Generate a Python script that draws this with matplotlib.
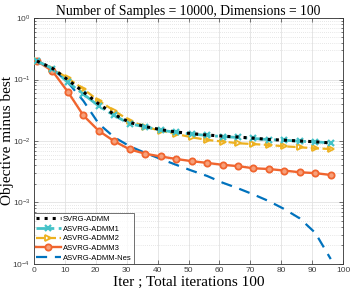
import numpy as np
import matplotlib.pyplot as plt
from matplotlib.ticker import LogLocator, NullFormatter

# iteration index of each recorded point
iters = [1, 6, 11, 16, 21, 26, 31, 36, 41, 46, 51, 56, 61, 66, 71, 76, 81, 86, 91, 96]

svrg_admm = [0.2, 0.152, 0.099, 0.063, 0.040, 0.027, 0.020, 0.0172, 0.0153, 0.0140,
             0.0132, 0.0125, 0.0120, 0.0116, 0.0111, 0.0106, 0.0103, 0.0100, 0.0097, 0.0093]
asvrg_admm1 = [0.2, 0.150, 0.090, 0.058, 0.037, 0.026, 0.019, 0.0170, 0.0150, 0.0138,
               0.0130, 0.0123, 0.0118, 0.0114, 0.0110, 0.0105, 0.0103, 0.0099, 0.0097, 0.0093]
asvrg_admm2 = [0.2, 0.150, 0.105, 0.070, 0.045, 0.031, 0.0214, 0.0170, 0.0147, 0.0130,
               0.0115, 0.0104, 0.0098, 0.0092, 0.0089, 0.0086, 0.0082, 0.0079, 0.0076, 0.0074]
asvrg_admm3 = [0.2, 0.137, 0.063, 0.026, 0.0146, 0.0099, 0.0073, 0.0062, 0.0056, 0.0051,
               0.0047, 0.0044, 0.0041, 0.0039, 0.0036, 0.0035, 0.0033, 0.0031, 0.0030, 0.0028]
asvrg_admm_nes = [0.2, 0.150, 0.090, 0.045, 0.019, 0.0115, 0.0082, 0.0064, 0.0051, 0.0041,
                  0.0033, 0.0027, 0.0021, 0.0017, 0.00135, 0.00105, 0.00078, 0.00055, 0.00032, 0.00012]

plt.rcParams['font.family'] = ['Liberation Sans', 'DejaVu Sans']
plt.rcParams['mathtext.fontset'] = 'custom'
plt.rcParams['mathtext.rm'] = 'Liberation Sans'

fig = plt.figure(figsize=(3.53, 2.91), dpi=100)
ax = fig.add_axes([0.096, 0.093, 0.876, 0.845])

ax.plot(iters, svrg_admm, ':', color='k', lw=2.2, label='SVRG-ADMM', zorder=5)
ax.plot(iters, asvrg_admm1, '-.', color='#44C2C8', lw=2.0, marker='x', ms=4.5,
        mew=1.6, label='ASVRG-ADMM1', zorder=4)
ax.plot(iters, asvrg_admm2, '--', color='#EDB120', lw=1.6, marker='>', ms=4.5,
        mfc='none', mew=1.3, label='ASVRG-ADMM2', zorder=3)
ax.plot(iters, asvrg_admm3, '-', color='#F0652F', lw=1.7, marker='o', ms=4.5,
        mfc='#F7A07A', mew=1.3, label='ASVRG-ADMM3', zorder=3)
ax.plot(iters, asvrg_admm_nes, '--', color='#0072BD', lw=1.6, dashes=(5, 3.5),
        label='ASVRG-ADMM-Nes', zorder=2)

ax.set_yscale('log')
ax.set_xlim(0, 100)
ax.set_ylim(1e-4, 1)
ax.set_xticks(range(0, 101, 10))
ax.yaxis.set_major_locator(LogLocator(base=10, numticks=10))
ax.yaxis.set_minor_locator(LogLocator(base=10, subs=np.arange(2, 10), numticks=20))
ax.yaxis.set_minor_formatter(NullFormatter())

ax.grid(True, which='major', color='#e2e2e2', lw=0.6, ls='-')
ax.grid(True, which='minor', axis='y', color='#d0d0d0', lw=0.5, ls=(0, (1, 2)))
ax.set_axisbelow(True)

ax.tick_params(which='both', direction='in', top=True, right=True,
               labelsize=6, labelcolor='#404040', color='#404040', width=0.5)
ax.tick_params(which='major', length=3, pad=2.5)
ax.tick_params(which='minor', length=1.5)
for s in ax.spines.values():
    s.set_linewidth(0.6)
    s.set_color('#303030')

serif = ['Liberation Serif', 'DejaVu Serif']
ax.set_title('Number of Samples = 10000, Dimensions = 100', family=serif,
             fontsize=9.8, pad=2)
ax.set_xlabel('Iter ; Total iterations 100', family=serif, fontsize=11, labelpad=1)
ax.set_ylabel('Objective minus best', family=serif, fontsize=11)
ax.yaxis.set_label_coords(-0.063, 0.5)

leg = ax.legend(loc='lower left', fontsize=5.5, frameon=True, fancybox=False,
                edgecolor='#303030', borderpad=0.3, labelspacing=0.3,
                handlelength=3.2, handletextpad=0.3, borderaxespad=0)
leg.get_frame().set_linewidth(0.6)

fig.savefig('out.png', dpi=100)
